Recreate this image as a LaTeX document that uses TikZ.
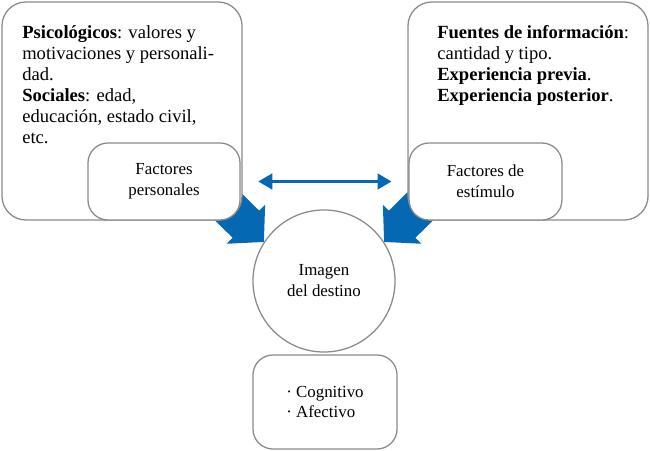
\documentclass[tikz,border=0pt]{standalone}
\usepackage{fontspec}
\setmainfont{Liberation Serif}
\usetikzlibrary{arrows.meta,backgrounds}
\definecolor{azul}{HTML}{0568B3}
\definecolor{borde}{HTML}{8A8A8A}

\begin{document}
\begin{tikzpicture}[x=0.025cm,y=-0.025cm]
        \tikzstyle{caja}=[draw=borde,line width=0.9pt,fill=white,rounded corners=0.6cm,inner sep=0pt,align=center,font=\fontsize{12}{14.9}\selectfont]
        \tikzstyle{texto}=[inner sep=0pt,align=left,anchor=north west,font=\fontsize{13.2}{15}\selectfont]
        \tikzstyle{flecha}=[azul,line width=27pt,-{Triangle[length=18pt,width=38pt]}]
        \useasboundingbox (0,0) rectangle (650,451);
        % cajas grandes
        \node[caja,minimum width=6cm,minimum height=5.45cm] (izq) at (122,111) {};
        \node[caja,minimum width=6cm,minimum height=5.45cm] (der) at (528,111) {};
        \node[texto] (psico) at (22,25) {\textbf{Psicológicos}: valores y\\motivaciones y personali-\\dad.\\\textbf{Sociales}: edad,\\educación, estado civil,\\etc.};
        \node[texto] (fuentes) at (437,25) {\textbf{Fuentes de información}:\\cantidad y tipo.\\\textbf{Experiencia previa}.\\\textbf{Experiencia posterior}.};
        % factores
        \node[caja,rounded corners=0.5cm,minimum width=3.8cm,minimum height=1.925cm] (pers) at (164,181.5) {Factores\\personales};
        \node[caja,rounded corners=0.5cm,minimum width=3.82cm,minimum height=1.925cm] (estim) at (485.5,181.5) {Factores de\\estímulo};
        \node[caja,circle,minimum size=3.55cm] (img) at (324,281) {Imagen\\del destino};
        \node[caja,rounded corners=0.5cm,minimum width=3.6cm,minimum height=2.35cm,align=left] (comp) at (325,402) {· Cognitivo\\· Afectivo};
        \draw[azul,line width=2.2pt,{Triangle[length=10pt,width=11pt]}-{Triangle[length=10pt,width=11pt]},shorten <=12.5pt,shorten >=12pt] (pers.east) -- (estim.west);
        \begin{scope}[on background layer]
        \draw[flecha] (200,179) -- (img.147);
        \draw[flecha] (448,179) -- (img.33);
        \end{scope}
\end{tikzpicture}
\end{document}
